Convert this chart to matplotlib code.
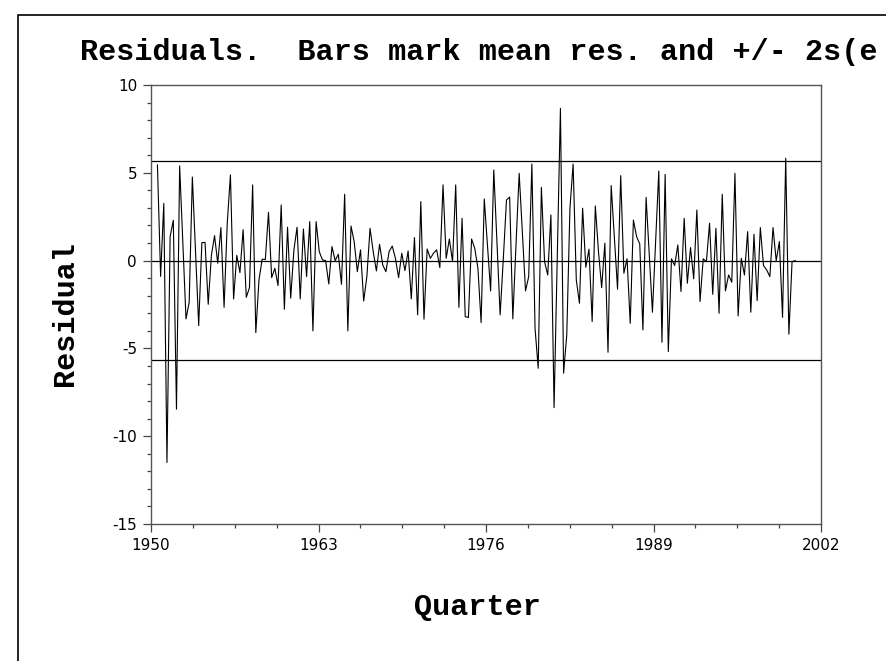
import matplotlib
matplotlib.use("Agg")
import matplotlib.pyplot as plt
import numpy as np
from matplotlib.patches import Rectangle
from matplotlib.ticker import MultipleLocator, FixedLocator

# ---- data ----
start_year = 1950.5
end_year = 2000.0
residuals = [
    5.45, -0.9, 3.26, -11.5, 1.37, 2.3, -8.46, 5.39, 1.0, -3.32,
    -2.38, 4.76, 0.5, -3.7, 1.02, 1.04, -2.49, 0.3, 1.42, -0.15,
    1.88, -2.66, 2.13, 4.88, -2.18, 0.3, -0.68, 1.76, -2.09, -1.54,
    4.31, -4.1, -1.1, 0.08, 0.06, 2.75, -0.97, -0.44, -1.42, 3.17,
    -2.77, 1.9, -2.14, 0.6, 1.9, -2.18, 1.8, -0.91, 2.22, -4.0,
    2.22, 0.51, 0.04, 0.0, -1.33, 0.8, 0.0, 0.36, -1.35, 3.78,
    -4.0, 1.97, 1.08, -0.63, 0.61, -2.3, -0.91, 1.84, 0.51, -0.59,
    0.93, -0.25, -0.63, 0.51, 0.83, 0.13, -0.97, 0.42, -0.57, 0.55,
    -2.18, 1.31, -3.09, 3.36, -3.34, 0.66, 0.13, 0.42, 0.61, -0.4,
    4.31, 0.13, 1.23, -0.06, 4.31, -2.66, 2.41, -3.19, -3.24, 1.23,
    0.7, -0.44, -3.53, 3.51, 0.9, -1.73, 5.16, 1.1, -3.09, 0.1,
    3.45, 3.62, -3.32, 0.9, 4.97, 1.65, -1.73, -0.91, 5.5, -3.85,
    -6.13, 4.17, -0.06, -0.82, 2.6, -8.37, 0.15, 8.67, -6.41, -4.23,
    2.98, 5.5, -1.1, -2.43, 2.98, -0.38, 0.65, -3.47, 3.11, 0.5,
    -1.54, 0.99, -5.22, 4.27, 1.3, -1.63, 4.84, -0.72, 0.1, -3.57,
    2.31, 1.37, 0.95, -3.95, 3.6, 0.3, -2.94, 1.1, 5.1, -4.65,
    4.91, -5.18, 0.1, -0.28, 0.89, -1.76, 2.41, -1.29, 0.74, -1.04,
    2.88, -2.33, 0.1, -0.06, 2.13, -1.92, 1.84, -3.0, 3.78, -1.73,
    -0.82, -1.23, 4.97, -3.15, 0.13, -0.82, 1.65, -2.94, 1.5, -2.28,
    1.88, -0.28, -0.53, -0.91, 1.88, 0.0, 1.08, -3.23, 5.83, -4.19,
    -0.06, 0.0,
]
mean_res = 0.0
two_s = 5.68
x_ticks = [1950, 1963, 1976, 1989, 2002]
y_ticks = [-15, -10, -5, 0, 5, 10]
title = "Residuals.  Bars mark mean res. and +/- 2s(e"
xlabel = "Quarter"
ylabel = "Residual"

# ---- figure ----
W, H = 886, 661
fig = plt.figure(figsize=(W / 100, H / 100), dpi=100)
fig.patch.set_facecolor("white")

# outer frame (extends past right/bottom edge)
fig.patches.append(Rectangle((18 / W, -0.1), 1.2, 1 - 15 / H + 0.1,
                             transform=fig.transFigure, fill=False,
                             edgecolor="black", linewidth=1.2))

ax_l, ax_r, ax_t, ax_b = 151, 821, 85, 524
ax = fig.add_axes([ax_l / W, 1 - ax_b / H, (ax_r - ax_l) / W, (ax_b - ax_t) / H])

x = np.linspace(start_year, end_year, len(residuals))
ax.plot(x, residuals, color="black", linewidth=0.8)
for yv in (mean_res, mean_res + two_s, mean_res - two_s):
    ax.axhline(yv, color="black", linewidth=0.9)

ax.set_xlim(x_ticks[0], x_ticks[-1])
ax.set_ylim(y_ticks[0], y_ticks[-1])
ax.xaxis.set_major_locator(FixedLocator(x_ticks))
ax.xaxis.set_minor_locator(MultipleLocator(3.25))
ax.yaxis.set_major_locator(FixedLocator(y_ticks))
ax.yaxis.set_minor_locator(MultipleLocator(1))

tick_font = dict(family=["Liberation Sans Narrow", "DejaVu Sans"], size=11)
ax.set_xticklabels([str(v) for v in x_ticks], **tick_font)
ax.set_yticklabels([str(v) for v in y_ticks], **tick_font)
ax.tick_params(which="major", direction="out", length=6, width=0.9, color="#444444", pad=4)
ax.tick_params(which="minor", direction="out", length=3, width=0.9, color="#444444")
for s in ax.spines.values():
    s.set_color("#555555")
    s.set_linewidth(1.0)

lab_font = dict(family=["Liberation Mono", "DejaVu Sans Mono"], weight="bold", size=21.7)
fig.text(80 / W, 1 - 60 / H, title, ha="left", va="baseline", **lab_font)
fig.text(477 / W, 1 - 607 / H, xlabel, ha="center", va="center", **lab_font)
fig.text(65 / W, 1 - 314 / H, ylabel, ha="center", va="center", rotation=90, **lab_font)

fig.savefig("out.png", dpi=100, facecolor="white")
